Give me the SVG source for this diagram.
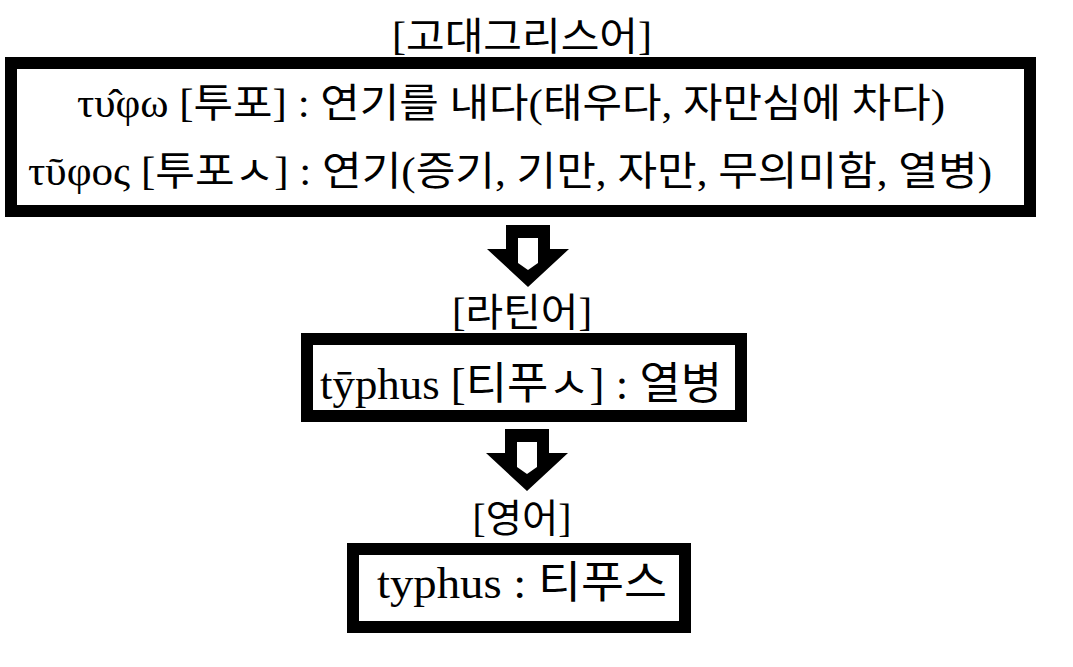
<svg xmlns="http://www.w3.org/2000/svg" xmlns:xlink="http://www.w3.org/1999/xlink" width="1073" height="667" viewBox="0 0 1073 667">
<style>
  .box { fill: #ffffff; stroke: #000000; stroke-width: 12; }
  .t { font-family: "Liberation Serif", "Noto Sans CJK KR", serif; fill: #000000; text-anchor: middle; }
  .lbl { font-size: 39px; }
  .b1 { font-size: 40px; }
  .b2 { font-size: 44px; }
</style>
<defs>
  <g id="arrow">
    <polygon points="-22,0 22,0 22,24 41,24 0,62 -41,24 -22,24" fill="#000000"/>
    <polygon points="-10,13 10,13 10,38 0,45 -10,38" fill="#ffffff"/>
  </g>
</defs>
<rect x="0" y="0" width="1073" height="667" fill="#ffffff"/>
<g id="connectors">
  <use xlink:href="#arrow" href="#arrow" transform="translate(528,225)"/>
  <use xlink:href="#arrow" href="#arrow" transform="translate(527,429)"/>
</g>
<g id="node-greek">
  <text class="t lbl" x="522" y="50" textLength="260" lengthAdjust="spacingAndGlyphs">[고대그리스어]</text>
  <rect class="box" x="11" y="63" width="1019" height="148"/>
  <text class="t b1" x="511" y="117" textLength="868" lengthAdjust="spacingAndGlyphs">τυ̂φω [투포] : 연기를 내다(태우다, 자만심에 차다)</text>
  <text class="t b1" x="510" y="185" textLength="964" lengthAdjust="spacingAndGlyphs">τῦφος [투포ㅅ] : 연기(증기, 기만, 자만, 무의미함, 열병)</text>
</g>
<g id="node-latin">
  <text class="t lbl" x="522" y="326" textLength="140" lengthAdjust="spacingAndGlyphs">[라틴어]</text>
  <rect class="box" x="307" y="339" width="434" height="77"/>
  <text class="t b2" x="521" y="399" textLength="402" lengthAdjust="spacingAndGlyphs">tȳphus [티푸ㅅ] : 열병</text>
</g>
<g id="node-english">
  <text class="t lbl" x="522" y="532" textLength="99" lengthAdjust="spacingAndGlyphs">[영어]</text>
  <rect class="box" x="353" y="549" width="332" height="78"/>
  <text class="t b2" x="522" y="598" textLength="290" lengthAdjust="spacingAndGlyphs">typhus : 티푸스</text>
</g>
</svg>
